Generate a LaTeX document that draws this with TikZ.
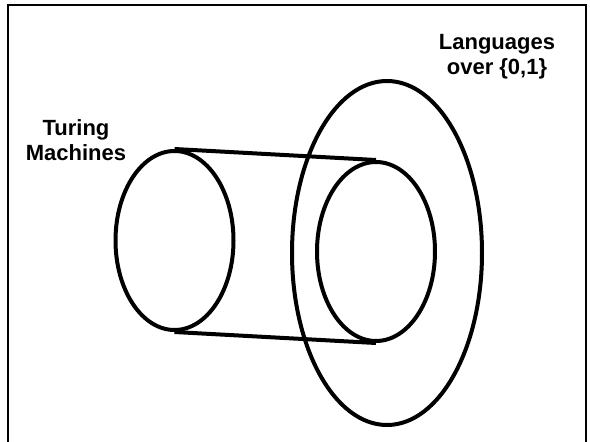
\documentclass[tikz,border=0pt]{standalone}
\usepackage{fontspec}
\setmainfont{Liberation Sans}
\usetikzlibrary{positioning,shapes.geometric}

\begin{document}
\begin{tikzpicture}[x=1pt, y=-1pt, line width=4pt,
  every node/.style={font=\fontsize{22}{25}\selectfont\bfseries, align=center}]
  \def\cw{118pt}
  \def\ch{179pt}
  \useasboundingbox (0,0) rectangle (590,442);
  \draw[line width=2.4pt] (8,460) -- (8,5) -- (586,5) -- (586,460);

  \node[draw, ellipse, inner sep=0pt,
    minimum width=190pt, minimum height=344pt] (lang) at (387,253) {};
  \node[draw, ellipse, inner sep=0pt,
    minimum width=\cw, minimum height=\ch] (tm) at (174.5,240.5) {};
  \node[draw, ellipse, inner sep=0pt,
    minimum width=\cw, minimum height=\ch] (tmlang) at (376,251.5) {};

  \node (tmlabel) at (76,140) {Turing\\Machines};
  \node (langlabel) at (497,57) {Languages\\over \{0,1\}};

  \draw (tm.north) -- (tmlang.north);
  \draw (tm.south) -- (tmlang.south);
\end{tikzpicture}
\end{document}
